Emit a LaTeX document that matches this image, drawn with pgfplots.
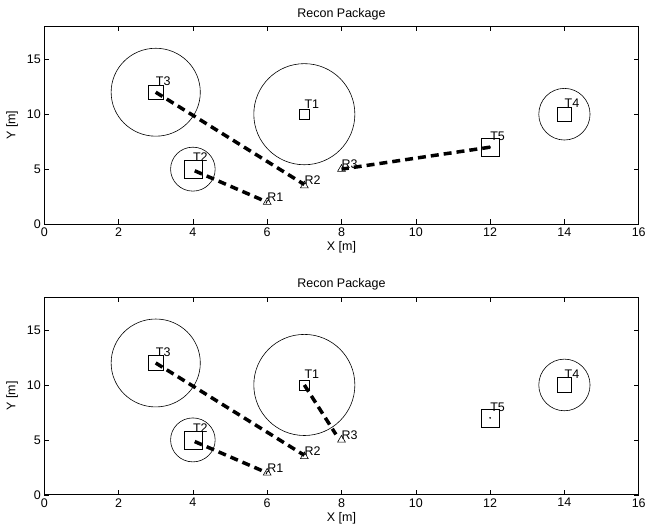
\documentclass[border=0pt]{standalone}
\usepackage{pgfplots}
\pgfplotsset{compat=1.18}
\usepackage{fontspec}
\setmainfont{Liberation Sans}
\tikzset{lab/.style={anchor=west, inner sep=0pt, font=\fontsize{12.5}{14}\selectfont}}
\pgfplotsset{
  recon/.style={
    scale only axis, width=595pt, height=198pt,
    xmin=0, xmax=16, ymin=0, ymax=18,
    xtick={0,2,...,16}, ytick={0,5,10,15},
    tick align=inside, tick pos=both, major tick length=5pt,
    tick style={line width=0.5pt, black},
    axis line style={line width=0.8pt},
    /pgf/number format/assume math mode=true,
    tick label style={font=\fontsize{12.5}{14}\selectfont},
    xticklabel style={yshift=0pt},
    label style={font=\fontsize{12.5}{14}\selectfont},
    title style={font=\fontsize{12.5}{14}\selectfont, yshift=-3pt},
    title={Recon Package}, xlabel={X [m]}, ylabel={Y [m]},
    xlabel style={yshift=2pt}, ylabel style={yshift=2pt},
    clip=false,
  },
  sq/.style={only marks, mark=square, mark size=#1, mark options={line width=0.6pt, black}},
  tri/.style={only marks, mark=triangle, mark size=4.5, mark options={line width=0.6pt, black}},
  link/.style={no marks, black, line width=3.5pt, dash pattern=on 8pt off 5pt},
}
\newcommand{\scene}{%
  \draw[line width=0.6pt] (axis cs:3,12) ellipse [x radius=1.2, y radius=4];
  \draw[line width=0.6pt] (axis cs:7,10) ellipse [x radius=1.36, y radius=4.6];
  \draw[line width=0.6pt] (axis cs:4,5) ellipse [x radius=0.6, y radius=2];
  \draw[line width=0.6pt] (axis cs:14,10) ellipse [x radius=0.69, y radius=2.35];
  \addplot[sq=5] coordinates {(7,10)};
  \addplot[sq=9] coordinates {(4,5)};
  \addplot[sq=7.2] coordinates {(3,12)};
  \addplot[sq=7.2] coordinates {(14,10)};
  \addplot[sq=9] coordinates {(12,7)};
  \addplot[only marks, mark=*, mark size=0.6pt, black] coordinates {(12,7)};
  \addplot[tri] coordinates {(6,2) (7,3.5) (8,5)};
  \node[lab] at (axis cs:7.0,10.95) {T1};
  \node[lab] at (axis cs:4.0,6.05) {T2};
  \node[lab] at (axis cs:3.0,13.0) {T3};
  \node[lab] at (axis cs:14.0,11.0) {T4};
  \node[lab] at (axis cs:12.0,8.0) {T5};
  \node[lab] at (axis cs:6.0,2.45) {R1};
  \node[lab] at (axis cs:7.0,4.0) {R2};
  \node[lab] at (axis cs:8.0,5.45) {R3};
}
\begin{document}
\begin{tikzpicture}
\begin{axis}[recon, at={(0,271pt)}, anchor=south west]
  \scene
  \addplot[link] coordinates {(3,12) (7,3.6)};
  \addplot[link] coordinates {(4.05,4.85) (6,2)};
  \addplot[link] coordinates {(12,7) (8,5)};
\end{axis}
\begin{axis}[recon, at={(0,0)}, anchor=south west]
  \scene
  \addplot[link] coordinates {(3,12) (7,3.6)};
  \addplot[link] coordinates {(4.05,4.85) (6,2)};
  \addplot[link] coordinates {(7,10) (7.85,5.5)};
\end{axis}
\path[use as bounding box] (-44.3pt,-35.7pt) rectangle (604.7pt,495.3pt);
\end{tikzpicture}
\end{document}
